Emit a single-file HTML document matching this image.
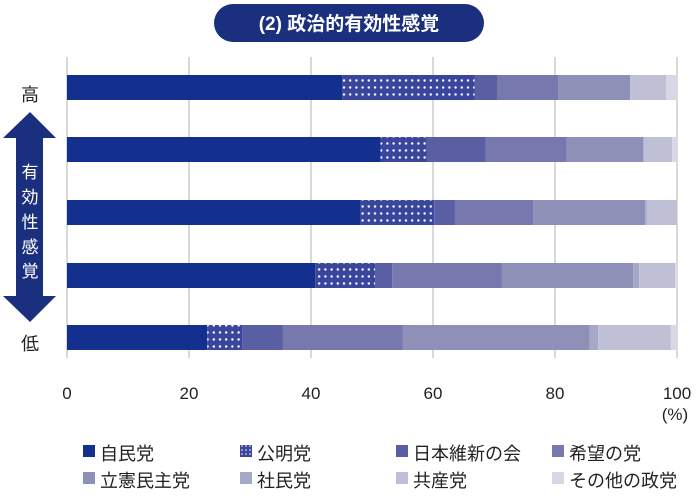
<!DOCTYPE html><html><head><meta charset="utf-8"><style>
body{margin:0;width:698px;height:495px;background:#fff;overflow:hidden;font-family:"Liberation Sans","Noto Sans CJK JP",sans-serif;}
</style></head><body>
<svg width="698" height="495" xmlns="http://www.w3.org/2000/svg" font-family="Liberation Sans, Noto Sans CJK JP, sans-serif">
<defs><pattern id="dot" width="6.2" height="7" patternUnits="userSpaceOnUse"><rect width="6.2" height="7" fill="#3a469b"/><circle cx="3" cy="3.5" r="1.2" fill="#fff"/></pattern>
<pattern id="dot2" width="4" height="4" patternUnits="userSpaceOnUse"><rect width="4" height="4" fill="#3a469b"/><circle cx="2" cy="2" r="0.8" fill="#fff"/></pattern></defs>
<rect x="214" y="4" width="270" height="38" rx="19" fill="#1b2f7f"/>
<text x="349" y="30" fill="#fff" font-size="19" font-weight="600" text-anchor="middle">(2) 政治的有効性感覚</text>
<g stroke="#d9d9d9" stroke-width="2">
<line x1="67" y1="57" x2="67" y2="358"/><line x1="189" y1="57" x2="189" y2="358"/><line x1="311" y1="57" x2="311" y2="358"/><line x1="433" y1="57" x2="433" y2="358"/><line x1="555" y1="57" x2="555" y2="358"/><line x1="677" y1="57" x2="677" y2="358"/>
</g>
<g id="bars"></g>
<path d="M30 112 L56 138 L43 138 L43 296 L56 296 L30 322 L3 296 L16 296 L16 138 L3 138 Z" fill="#1b2f7f"/>
<g fill="#fff" font-size="17" text-anchor="middle"><text x="30" y="178">有</text><text x="30" y="203">効</text><text x="30" y="228">性</text><text x="30" y="253">感</text><text x="30" y="277">覚</text></g>
<g font-size="18" fill="#222" text-anchor="middle"><text x="30" y="101">高</text><text x="30" y="350">低</text></g>
<g font-size="17" fill="#222" text-anchor="middle"><text x="67" y="399">0</text><text x="189" y="399">20</text><text x="311" y="399">40</text><text x="433" y="399">60</text><text x="555" y="399">80</text><text x="677" y="399">100</text><text x="675" y="420">(%)</text></g>
<g font-size="18" fill="#222">
<rect x="83" y="445" width="12" height="12" fill="#14308f"/><text x="100" y="460">自民党</text>
<rect x="240" y="445" width="12" height="12" fill="url(#dot2)"/><text x="257" y="460">公明党</text>
<rect x="396" y="445" width="12" height="12" fill="#5a5fa3"/><text x="413" y="460">日本維新の会</text>
<rect x="552" y="445" width="12" height="12" fill="#7778ae"/><text x="569" y="460">希望の党</text>
<rect x="83" y="472" width="12" height="12" fill="#8e90b8"/><text x="100" y="487">立憲民主党</text>
<rect x="240" y="472" width="12" height="12" fill="#a6a8c8"/><text x="257" y="487">社民党</text>
<rect x="396" y="472" width="12" height="12" fill="#bfc0d6"/><text x="413" y="487">共産党</text>
<rect x="552" y="472" width="12" height="12" fill="#d6d8e6"/><text x="569" y="487">その他の政党</text>
</g>
</svg>
<script>
var cols=["#14308f","url(#dot)","#5a5fa3","#7778ae","#8e90b8","#a6a8c8","#bfc0d6","#d6d8e6"];
var data=[[75,[45.1,66.8,70.6,80.5,92.3,92.3,98.2,100]],[137,[51.4,59.0,68.6,81.9,94.5,94.5,99.2,100]],[200,[48.1,60.2,63.6,76.4,94.8,95.0,100,100]],[263,[40.7,50.5,53.3,71.3,92.8,93.8,99.7,100]],[325,[23.0,28.7,35.4,55.0,85.7,87.1,99.0,100]]];
var g=document.getElementById("bars"),s="";
data.forEach(function(d){var p=0;d[1].forEach(function(e,i){var x=67+p*6.1,w=(e-p)*6.1;if(w>0)s+='<rect x="'+x+'" y="'+d[0]+'" width="'+w+'" height="25" fill="'+cols[i]+'"/>';p=e;});});
g.innerHTML=s;
</script>
</body></html>
